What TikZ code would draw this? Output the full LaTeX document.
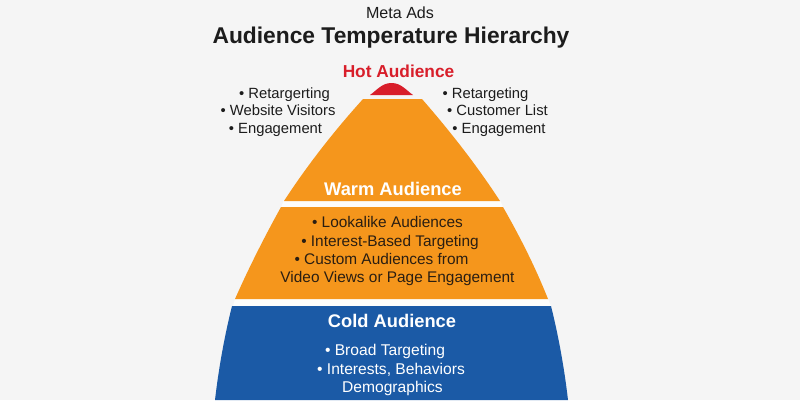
\documentclass[tikz,border=0pt]{standalone}
\usepackage{fontspec}
\setmainfont{Liberation Sans}
\definecolor{bgc}{HTML}{F5F5F5}
\definecolor{gapc}{HTML}{FDFDFB}
\definecolor{orangec}{HTML}{F5961C}
\definecolor{bluec}{HTML}{1B5AA6}
\definecolor{redc}{HTML}{D81E2A}
\definecolor{inkc}{HTML}{1C1C1C}
\definecolor{brownc}{HTML}{2A1E12}
\tikzset{
  txt/.style={anchor=base, inner sep=0pt, text=inkc},
  sidelist/.style={txt, font=\fontsize{14.8}{17}\selectfont},
  orlist/.style={txt, text=brownc, font=\fontsize{15.4}{18}\selectfont},
  cdlist/.style={txt, text=white, font=\fontsize{15.6}{18}\selectfont},
  bandhead/.style={txt, text=white, font=\fontsize{18.3}{20}\selectfont\bfseries},
}
\begin{document}
\begin{tikzpicture}[x=1pt,y=-1pt]
\fill[bgc] (0,0) rectangle (800,400);
\useasboundingbox (0,0) rectangle (800,400);
% white gaps between bands
\fill[gapc] (284,200) -- (500,200) -- (503,207) -- (548,299) -- (551,306)
  -- (233,306) -- (235,299) -- (281,207) -- cycle;
% red cap
\fill[redc] (370,95) .. controls (377,90) and (382,83) .. (391.5,83)
  .. controls (401,83) and (406,90) .. (413,95) -- cycle;
% top orange band
\fill[orangec] (363,99) -- (422,99) .. controls (450.1,131.2) and (476.7,165.2) .. (500,201)
  -- (284,201) .. controls (307.3,165.2) and (333.9,131.2) .. cycle;
% second orange band
\fill[orangec] (281,207) -- (503,207) .. controls (520,236.8) and (535.5,267.4) .. (548,299)
  -- (235,299) .. controls (249,267.4) and (264.5,236.8) .. cycle;
% blue band
\fill[bluec] (232,306) -- (551,306) .. controls (558.7,336.9) and (564.3,368.3) .. (568,400)
  -- (215,400) .. controls (218.7,368.3) and (224.3,336.9) .. cycle;
% titles
\node[txt, font=\fontsize{16.1}{18}\selectfont] (meta) at (400,18.5) {Meta Ads};
\node[txt, font=\fontsize{22.8}{26}\selectfont\bfseries] (title) at (391,43) {Audience Temperature Hierarchy};
\node[txt, text=redc, font=\fontsize{17.3}{20}\selectfont\bfseries] (hot) at (398.5,77) {Hot Audience};
% left list
\node[sidelist] (l1) at (284.5,98) {• Retargerting};
\node[sidelist] (l2) at (278,115.5) {• Website Visitors};
\node[sidelist] (l3) at (275.5,133) {• Engagement};
% right list
\node[sidelist] (r1) at (485.5,98) {• Retargeting};
\node[sidelist] (r2) at (497.5,115.5) {• Customer List};
\node[sidelist] (r3) at (499,133) {• Engagement};
% warm
\node[bandhead] (warm) at (393,195) {Warm Audience};
\node[orlist] (w1) at (387.5,227.7) {• Lookalike Audiences};
\node[orlist] (w2) at (390,246) {• Interest-Based Targeting};
\node[orlist] (w3) at (381.5,264.3) {• Custom Audiences from};
\node[orlist] (w4) at (397.5,282.7) {Video Views or Page Engagement};
% cold
\node[bandhead] (cold) at (392,327.3) {Cold Audience};
\node[cdlist] (c1) at (385,355) {• Broad Targeting};
\node[cdlist] (c2) at (391,374) {• Interests, Behaviors};
\node[cdlist] (c3) at (392.5,392.7) {Demographics};
\end{tikzpicture}
\end{document}
